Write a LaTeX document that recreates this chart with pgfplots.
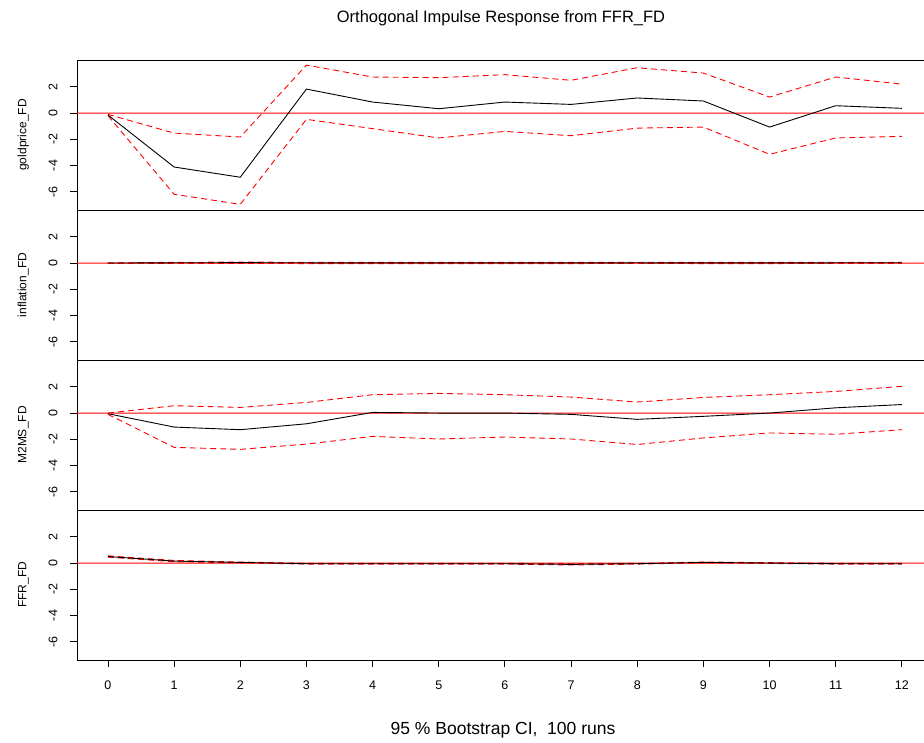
\documentclass[border=0pt]{standalone}
\usepackage{fontspec}
\setmainfont{Liberation Sans}
\usepackage{pgfplots}
\usepackage{pgfplotstable}
\pgfplotsset{compat=1.18}

% step  irf  upper  lower
\pgfplotstableread{
x  y      up     lo
0  -0.15  -0.10  -0.20
1  -4.12  -1.53  -6.20
2  -4.90  -1.83  -6.97
3   1.83   3.66  -0.48
4   0.84   2.75  -1.19
5   0.33   2.70  -1.90
6   0.84   2.93  -1.40
7   0.66   2.50  -1.73
8   1.15   3.46  -1.15
9   0.92   3.05  -1.07
10 -1.07   1.22  -3.15
11  0.56   2.75  -1.90
12  0.36   2.21  -1.78
}\gold
\pgfplotstableread{
x  y      up     lo
0   0.00   0.00   0.00
1   0.02   0.06  -0.03
2   0.03   0.07  -0.03
3   0.02   0.06  -0.04
4   0.01   0.05  -0.04
5   0.01   0.05  -0.04
6   0.01   0.05  -0.04
7   0.01   0.05  -0.04
8   0.02   0.06  -0.03
9   0.01   0.05  -0.04
10  0.01   0.05  -0.04
11  0.02   0.06  -0.03
12  0.02   0.06  -0.03
}\infl
\pgfplotstableread{
x  y      up     lo
0  -0.05   0.00  -0.10
1  -1.07   0.56  -2.62
2  -1.27   0.43  -2.77
3  -0.82   0.81  -2.37
4   0.05   1.40  -1.78
5   0.00   1.50  -1.98
6   0.00   1.40  -1.83
7  -0.10   1.22  -1.98
8  -0.48   0.84  -2.40
9  -0.25   1.19  -1.90
10  0.00   1.40  -1.52
11  0.40   1.65  -1.62
12  0.65   2.04  -1.27
}\mtwo
\pgfplotstableread{
x  y      up     lo
0   0.50   0.55   0.45
1   0.15   0.20   0.10
2   0.05   0.08   0.02
3  -0.05  -0.02  -0.08
4  -0.05  -0.02  -0.08
5  -0.05  -0.02  -0.08
6  -0.05  -0.02  -0.08
7  -0.10  -0.05  -0.15
8  -0.05  -0.02  -0.08
9   0.05   0.08   0.02
10  0.00   0.03  -0.03
11 -0.05  -0.02  -0.08
12 -0.05  -0.02  -0.08
}\ffr

% the right frame line falls just outside the page, as in the cropped original
\pgfplotsset{
  irf/.style={
    width=852pt, height=150pt, scale only axis,
    xmin=-0.468, xmax=12.41, ymin=-7.4, ymax=4.05,
    axis line style={black, line width=0.9pt},
    ytick={-6,-4,...,2}, tick align=outside, major tick length=7pt,
    tick style={black, line width=0.9pt},
    xtick pos=bottom, ytick pos=left,
    y tick label style={font=\fontsize{12.5}{14}\selectfont, rotate=90, anchor=south, yshift=9pt},
    x tick label style={font=\fontsize{12.5}{14}\selectfont, yshift=-10pt},
    /pgf/number format/assume math mode=true,
    ylabel style={font=\fontsize{12}{14}\selectfont, at={(axis description cs:-0.063,0.5)}, anchor=center, rotate=0},
    anchor=north west,
  },
  irfline/.style={draw=black, line width=0.9pt, mark=none},
  irfband/.style={draw=red, line width=0.9pt, dash pattern=on 6pt off 4pt, mark=none},
}

% zero line: a hair of slope, a perfectly flat path came out black
\newcommand{\panel}[1]{%
  \addplot[draw=red, line width=1pt] coordinates {(-0.6,0) (12.6,0.001)};
  \addplot[irfband] table[x=x, y=up] {#1};
  \addplot[irfband] table[x=x, y=lo] {#1};
  \addplot[irfline] table[x=x, y=y] {#1};
}

\begin{document}
\begin{tikzpicture}
\useasboundingbox (0,0) rectangle (924pt,-743pt);

\begin{axis}[irf, at={(77pt,-60pt)}, xtick=\empty, ylabel={goldprice\_FD}]
  \panel{\gold}
\end{axis}
\begin{axis}[irf, at={(77pt,-210pt)}, xtick=\empty, ylabel={inflation\_FD}]
  \panel{\infl}
\end{axis}
\begin{axis}[irf, at={(77pt,-360pt)}, xtick=\empty, ylabel={M2MS\_FD}]
  \panel{\mtwo}
\end{axis}
\begin{axis}[irf, at={(77pt,-510pt)}, xtick={0,...,12}, ylabel={FFR\_FD}]
  \panel{\ffr}
\end{axis}

\node[font=\fontsize{16.5}{19}\selectfont] at (501pt,-18pt) {Orthogonal Impulse Response from FFR\_FD};
\node[font=\fontsize{17.5}{20}\selectfont] at (503pt,-730pt) {95 \% Bootstrap CI,\ \ 100 runs};
\end{tikzpicture}
\end{document}
